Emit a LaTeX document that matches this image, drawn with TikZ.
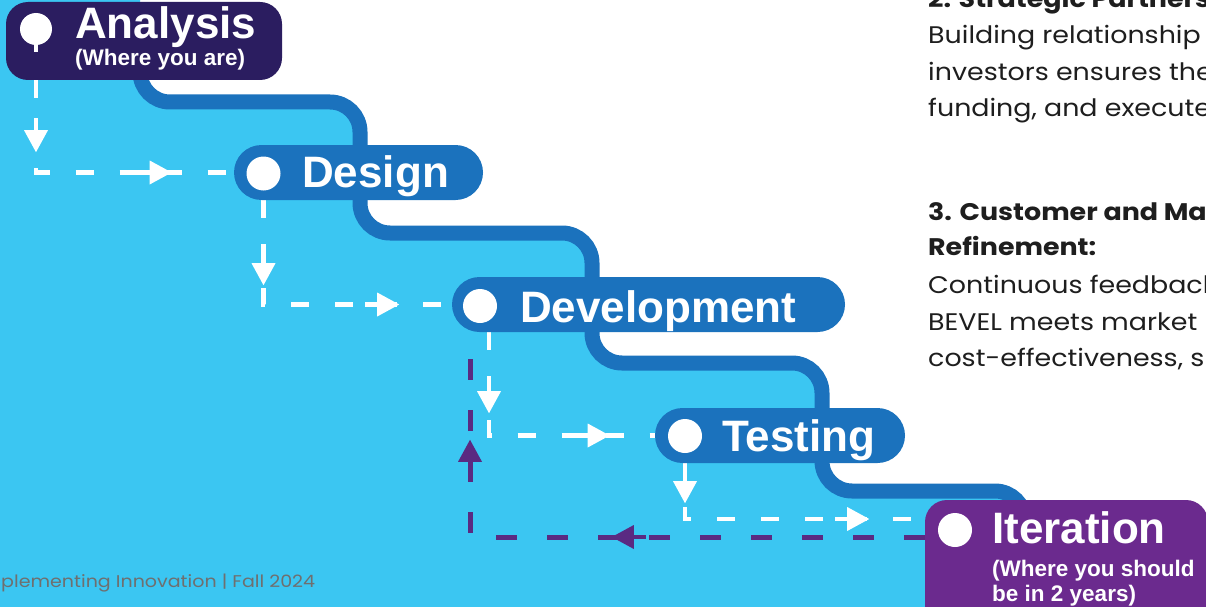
\documentclass[tikz,border=0pt]{standalone}
\usepackage{fontspec}
\setmainfont{Liberation Sans}
\newfontfamily\bodyfont[FakeStretch=1.12]{Poppins}
\usetikzlibrary{decorations.markings}

\definecolor{sky}{HTML}{3BC6F2}
\definecolor{stepblue}{HTML}{1B72BD}
\definecolor{navy}{HTML}{2B1D60}
\definecolor{grape}{HTML}{6B2A8E}
\definecolor{plum}{HTML}{5A2A82}
\definecolor{footgray}{HTML}{6F6F6F}
\definecolor{ink}{HTML}{1E1E1E}

\pgfdeclarelayer{ground}
\pgfdeclarelayer{flow}
\pgfsetlayers{ground,flow,main}

\tikzset{
  pill/.style={rectangle, inner sep=0pt, draw=none},
  dot/.style={circle, fill=white, inner sep=0pt, minimum size=34pt},
  title/.style={anchor=base west, inner sep=0pt, text=white,
    font=\bfseries\fontsize{44pt}{48pt}\selectfont},
  subtitle/.style={anchor=base west, inner sep=0pt, text=white,
    font=\bfseries\fontsize{22.5pt}{25pt}\selectfont},
  band/.style={draw=stepblue, line width=15pt, rounded corners=30pt},
  wflow/.style={draw=white, line width=4.5pt, dash pattern=on 18pt off 26pt},
  pflow/.style={draw=plum, line width=5pt, dash pattern=on 21pt off 30pt},
  tipat/.style 2 args={postaction={decorate, decoration={markings,
    mark=at position #1 with {
      \fill[#2] (-22pt,-12pt) -- (0pt,0pt) -- (-22pt,12pt) -- cycle;
      \fill[#2] (-34pt,-2.3pt) rectangle (-20pt,2.3pt);}}}},
  body/.style={anchor=base west, inner sep=0pt, text=ink,
    font=\bodyfont\fontsize{24pt}{28pt}\selectfont},
  head/.style={body, font=\bodyfont\bfseries\fontsize{24pt}{28pt}\selectfont},
  foot/.style={anchor=base west, inner sep=0pt, text=footgray,
    font=\bodyfont\fontsize{17pt}{20pt}\selectfont},
}

\begin{document}
\begin{tikzpicture}[x=1pt, y=-1pt]
\useasboundingbox (0,0) rectangle (1206,607);
\clip (0,0) rectangle (1206,607);

% backdrop: white page, sky-blue staircase field and its stepped edge
\begin{pgfonlayer}{ground}
  \fill[white] (0,0) rectangle (1206,607);
  \fill[sky] (0,0) -- (140,0) [rounded corners=30pt] -- (140,102) -- (360,102)
    -- (360,233) -- (592,233) -- (592,363) -- (822,363) -- (822,491)
    -- (1025,491) -- (1025,640) [sharp corners] -- (0,640) -- cycle;
  \draw[band] (140,40) -- (140,102) -- (360,102) -- (360,233) -- (592,233)
    -- (592,363) -- (822,363) -- (822,491) -- (1025,491) -- (1025,560);
\end{pgfonlayer}

% stage pills
\node[pill, fill=navy, minimum width=276pt, minimum height=78pt,
  rounded corners=22pt] (ana) at (144,41) {};
\node[pill, fill=stepblue, minimum width=249pt, minimum height=55pt,
  rounded corners=27.5pt] (des) at (358.5,172.5) {};
\node[pill, fill=stepblue, minimum width=393pt, minimum height=55pt,
  rounded corners=27.5pt] (dev) at (648.5,304.5) {};
\node[pill, fill=stepblue, minimum width=250pt, minimum height=55pt,
  rounded corners=27.5pt] (tst) at (780,435.5) {};
\node[pill, fill=grape, minimum width=283pt, minimum height=140pt,
  rounded corners=22pt] (ite) at (1066.5,570) {};

% markers
\node[dot, minimum size=32pt] (adot) at (36,29) {};
\fill[white] ([xshift=-2pt]adot.south) rectangle ([xshift=2pt,yshift=-7pt]adot.south);
\node[dot] (ddot) at (263.5,173.5) {};
\node[dot] (vdot) at (480,306) {};
\node[dot] (tdot) at (685,436) {};
\node[dot] (idot) at (955,530) {};

% labels
\node[title] (tana) at (75,39) {Analysis};
\node[subtitle] (sana) at (75,66) {(Where you are)};
\node[title] (tdes) at (302,187) {Design};
\node[title] (tdev) at (520,322) {Development};
\node[title] (ttst) at (722,451) {Testing};
\node[title] (tite) at (992,543) {Iteration};
\node[subtitle] (site) at (992,576) {(Where you should};
\node[subtitle] (site2) at (992,601) {be in 2 years)};

% stage-to-stage flow lines
\begin{pgfonlayer}{flow}
  \draw[wflow, tipat={72pt}{white}, tipat={228pt}{white}]
    (adot |- ana.south) -- (adot |- des.west) -- (des.west);
  \draw[wflow, tipat={85pt}{white}, tipat={240pt}{white}]
    (ddot |- des.south) -- (ddot |- dev.west) -- (dev.west);
  \draw[wflow, tipat={81pt}{white}, tipat={224pt}{white}]
    ([xshift=9pt]vdot.center |- dev.south) -- ([xshift=9pt]vdot.center |- tst.west)
    -- (tst.west);
  \draw[wflow, tipat={40pt}{white}, tipat={240pt}{white}]
    (tdot |- tst.south) -- ([yshift=11pt]tdot |- idot) -- ([yshift=11pt]ite.west |- idot);
  \draw[pflow, tipat={313pt}{plum}, tipat={552pt}{plum}]
    ([yshift=-7pt]ite.west |- idot) -- ([xshift=-10pt,yshift=-7pt]vdot |- idot)
    -- ([xshift=-10pt,yshift=-16pt]vdot.center |- dev.south);
\end{pgfonlayer}

% notes column
\node[head] (h2) at (928,8) {2. Strategic Partners};
\node[body] (b21) at (928,44) {Building relationship};
\node[body] (b22) at (928,81) {investors ensures the};
\node[body] (b23) at (928,117) {funding, and execute};
\node[head] (h3a) at (928,220) {3. Customer and Ma};
\node[head] (h3b) at (928,255) {Refinement:};
\node[body] (b31) at (928,293) {Continuous feedback};
\node[body] (b32) at (928,330) {BEVEL meets market};
\node[body] (b33) at (928,366) {cost-effectiveness, sh};

% footer
\node[foot] (ft) at (1,587) {plementing Innovation | Fall 2024};
\end{tikzpicture}
\end{document}
